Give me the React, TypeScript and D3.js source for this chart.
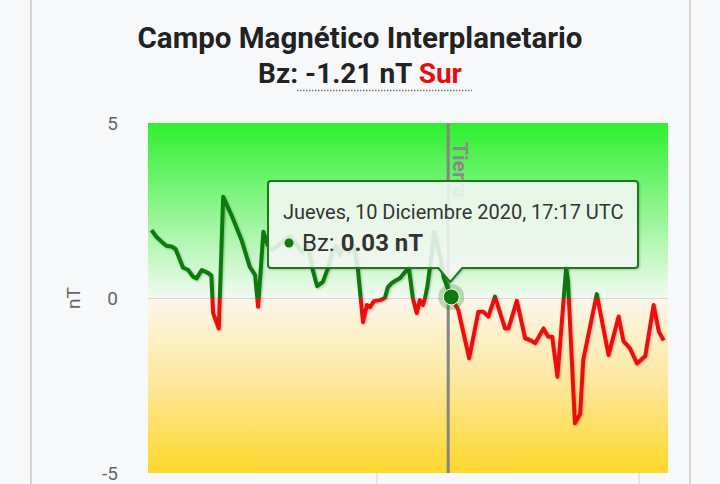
import React from "react";
import * as d3 from "d3";

// minutes after 16:00 UTC, 10 Dec 2020
const minutesSince1600 = [
  8.4, 9.5, 10.7, 11.8, 13.0, 13.9, 14.9, 15.6, 16.8, 17.9, 18.7, 19.9, 21.4, 22.1,
  22.5, 23.8, 24.8, 26.7, 29.0, 30.9, 32.1, 32.8, 34.0,
  35.0, 36.0, 37.3, 38.7, 40.1, 41.5, 42.8, 44.2,
  45.3, 46.3, 47.6, 48.8, 49.7, 50.6, 51.5, 52.4, 53.6, 54.7, 55.6,
  56.8, 57.7, 58.4, 59.3, 60.7, 61.8, 62.5, 63.4, 64.4, 65.3, 66.4, 67.3,
  68.2, 69.1, 69.8, 70.5, 71.0, 71.5, 72.1, 73.1, 74.4, 75.3,
  77.0,
  78.6, 81.1, 83.2, 84.3, 85.5, 87.0, 89.3, 90.1, 92.0, 93.9, 95.0, 96.2, 98.1, 99.2, 100.1, 101.3,
  103.3, 103.7, 105.3, 106.5, 107.2, 110.3, 113.0, 115.3, 116.4, 117.9, 119.5, 121.4, 123.3, 124.5, 125.6,
];
const bzValues = [
  1.94, 1.75, 1.61, 1.49, 1.47, 1.4, 1.09, 0.87, 0.8, 0.61, 0.56, 0.8, 0.71, 0.64,
  -0.43, -0.87, 2.89, 2.37, 1.66, 0.89, 0.66, -0.25, 1.89,
  1.51, 1.37, 1.49, 1.66, 1.77, 1.54, 1.31, 1.51,
  0.8, 0.34, 0.46, 0.86, 1.29, 1.49, 1.23, 1.51, 1.31, 1.49, 0.86,
  -0.69, -0.2, -0.26, -0.09, -0.06, 0.0, 0.31, 0.43, 0.51, 0.57, 0.74, 0.86,
  0.0, -0.43, -0.06, -0.2, 0.0, 0.31, 0.86, 1.89, 1.23, 0.57,
  0.03,
  -0.34, -1.72, -0.39, -0.39, -0.53, 0.04, -0.87, -0.87, -0.08, -1.15, -1.2, -1.29, -0.87, -1.11, -1.11, -2.25,
  0.87, 0.51, -3.58, -3.31, -1.77, 0.11, -1.63, -0.53, -1.23, -1.44, -1.87, -1.66, -0.2, -0.96, -1.21,
];
const yTicks = [5, 0, -5];
const xTickHours = [17, 18];
const xDomainMinutes = [7.6, 126.6];
const earthMinute = 76.3;
const hoverMinute = 77.0;
const titleText = "Campo Magnético Interplanetario";
const currentBz = "-1.21 nT";
const currentDir = "Sur";
const tooltipDate = "Jueves, 10 Diciembre 2020, 17:17 UTC";
const seriesName = "Bz";

export default function App() {
  const W = 720, H = 484;
  const left = 148, right = 668, top = 123, bottom = 473;
  const base = Date.UTC(2020, 11, 10, 16, 0, 0);
  const toDate = (m: number) => new Date(base + m * 60000);
  const data = minutesSince1600.map((m, i) => ({ t: toDate(m), v: bzValues[i] }));

  const x = d3.scaleUtc().domain(xDomainMinutes.map(toDate)).range([left, right]);
  const y = d3.scaleLinear().domain([-5, 5]).range([bottom, top]);
  const line = d3.line<{ t: Date; v: number }>().x(d => x(d.t)).y(d => y(d.v));
  const path = line(data) || "";
  const y0 = y(0);

  const hover = data.find(d => Math.abs(+d.t - +toDate(hoverMinute)) < 1000)!;
  const hx = x(hover.t), hy = y(hover.v);
  const ex = x(toDate(earthMinute));

  const font = "Roboto, 'Noto Sans', sans-serif";

  // tooltip box
  const tl = 268, tr = 638, tt = 181, tb = 268, r = 3;
  const tipX = hx - 1, tipY = 282;
  const tipPath = `M${tl + r},${tt} H${tr - r} Q${tr},${tt} ${tr},${tt + r} V${tb - r} Q${tr},${tb} ${tr - r},${tb} H${tipX + 12} L${tipX},${tipY} L${tipX - 12},${tb} H${tl + r} Q${tl},${tb} ${tl},${tb - r} V${tt + r} Q${tl},${tt} ${tl + r},${tt} Z`;

  return (
    <svg width={W} height={H} style={{ position: "absolute", left: 0, top: 0, background: "#f7f8fa" }}>
      <defs>
        <linearGradient id="bg" x1="0" y1="0" x2="0" y2="1">
          <stop offset="0%" stopColor="#2ef02e" />
          <stop offset="25%" stopColor="#8ff58f" />
          <stop offset="49.9%" stopColor="#f1faf0" />
          <stop offset="50.1%" stopColor="#fcf6ea" />
          <stop offset="75%" stopColor="#fce79a" />
          <stop offset="100%" stopColor="#fdd72a" />
        </linearGradient>
        <clipPath id="above"><rect x={left} y={top - 10} width={right - left} height={y0 - top + 10} /></clipPath>
        <clipPath id="below"><rect x={left} y={y0} width={right - left} height={bottom - y0 + 10} /></clipPath>
        <filter id="sh" x="-10%" y="-10%" width="120%" height="120%">
          <feDropShadow dx="1" dy="1" stdDeviation="1" floodColor="#000" floodOpacity="0.25" />
        </filter>
        <filter id="tsh" x="-10%" y="-10%" width="120%" height="130%">
          <feDropShadow dx="1" dy="1" stdDeviation="1" floodColor="#000" floodOpacity="0.2" />
        </filter>
      </defs>

      {/* panel borders */}
      <line x1={31} y1={0} x2={31} y2={H} stroke="#d4d4d4" strokeWidth={2} />
      <line x1={690} y1={0} x2={690} y2={H} stroke="#d4d4d4" strokeWidth={2} />

      {/* title */}
      <text x={360} y={48} textAnchor="middle" fontFamily={font} fontWeight={700} fontSize={29.5} fill="#222">{titleText}</text>
      <text x={360} y={83} textAnchor="middle" fontFamily={font} fontWeight={700} fontSize={28} fill="#222">
        <tspan>{seriesName}: </tspan>
        <tspan>{currentBz} </tspan>
        <tspan fill="#e01010">{currentDir}</tspan>
      </text>
      <line x1={297} y1={90.5} x2={472} y2={90.5} stroke="#777" strokeWidth={1.5} strokeDasharray="1.5,1.5" />

      {/* plot background */}
      <rect x={left} y={top} width={right - left} height={bottom - top} fill="url(#bg)" />
      <line x1={left} x2={right} y1={y0 + 0.5} y2={y0 + 0.5} stroke="#d8d8d8" strokeWidth={1} />

      {/* y axis */}
      {yTicks.map(t => (
        <text key={t} x={118} y={y(t) + 7} textAnchor="end" fontFamily={font} fontSize={19} fill="#666">{t}</text>
      ))}
      <text transform={`translate(80,${y0}) rotate(-90)`} textAnchor="middle" fontFamily={font} fontSize={19} fill="#666">nT</text>

      {/* x axis ticks */}
      {xTickHours.map(h => {
        const tx = x(new Date(Date.UTC(2020, 11, 10, h, 0, 0)));
        return <line key={h} x1={tx} x2={tx} y1={bottom} y2={H} stroke="#ccd6eb" strokeWidth={1} />;
      })}

      {/* earth line */}
      <line x1={ex} x2={ex} y1={top} y2={bottom} stroke="#858585" strokeWidth={3} />
      <text transform={`translate(${ex + 5},${top + 19}) rotate(90)`} fontFamily={font} fontWeight={700} fontSize={21} fill="#8a8a8a">Tierra</text>

      {/* series */}
      <g filter="url(#sh)">
        <path d={path} fill="none" stroke="#0d7a0d" strokeWidth={4} strokeLinejoin="round" clipPath="url(#above)" />
        <path d={path} fill="none" stroke="#ee1111" strokeWidth={4} strokeLinejoin="round" clipPath="url(#below)" />
      </g>

      {/* hover marker */}
      <circle cx={hx} cy={hy} r={13} fill="#0d7a0d" opacity={0.25} />
      <circle cx={hx} cy={hy} r={8} fill="#0d7a0d" stroke="#fff" strokeWidth={1} />

      {/* tooltip */}
      <path d={tipPath} fill="rgba(247,250,247,0.86)" stroke="#1b7a1b" strokeWidth={2} filter="url(#tsh)" />
      <text x={283} y={219} fontFamily={font} fontSize={20} fill="#333">{tooltipDate}</text>
      <circle cx={289} cy={243} r={4.5} fill="#0d7a0d" />
      <text x={302} y={251} fontFamily={font} fontSize={24} fill="#333">
        <tspan>{seriesName}: </tspan>
        <tspan fontWeight={700}>{d3.format(".2f")(hover.v)} nT</tspan>
      </text>
    </svg>
  );
}
